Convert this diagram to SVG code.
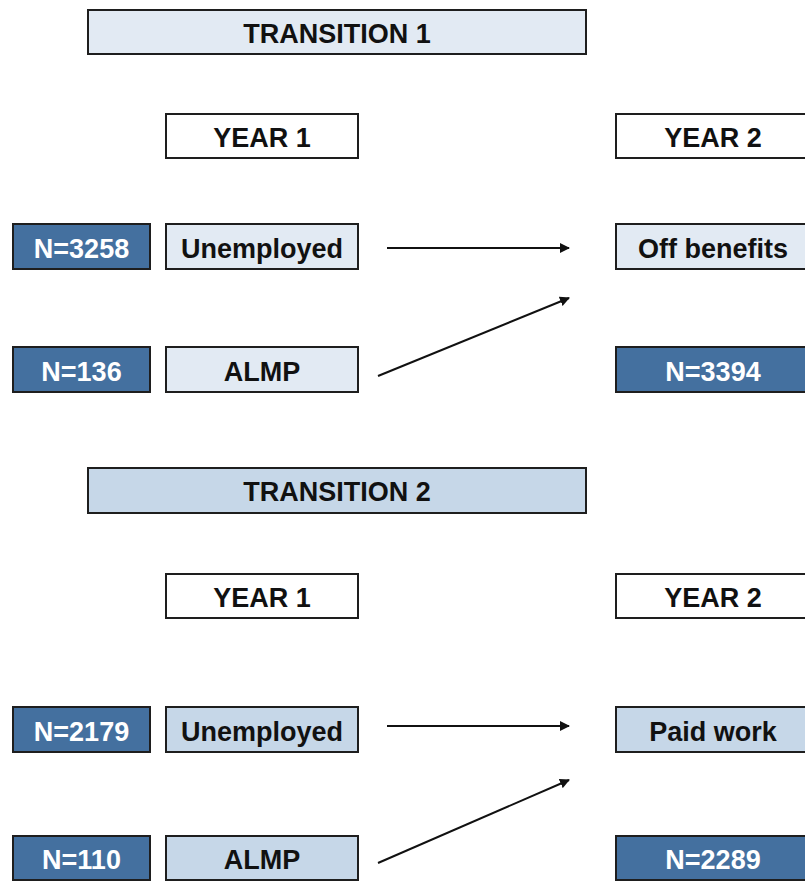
<svg xmlns="http://www.w3.org/2000/svg" width="805" height="882" viewBox="0 0 805 882">
  <defs>
    <style>
      .box { stroke: #1e1e1e; stroke-width: 2; }
      .pale { fill: #e2eaf3; }
      .soft { fill: #c6d7e8; }
      .white { fill: #ffffff; }
      .dark { fill: #44709f; }
      text { font-family: "Liberation Sans", Arial, sans-serif; font-weight: bold; font-size: 27px; text-anchor: middle; }
      .lt { fill: #ffffff; }
      .dt { fill: #111111; }
      .conn line { stroke: #111111; stroke-width: 2; marker-end: url(#arrow); }
    </style>
    <marker id="arrow" viewBox="0 0 10 10" refX="9" refY="5" markerWidth="5" markerHeight="5" orient="auto" markerUnits="strokeWidth">
      <path d="M0,0 L10,5 L0,10 z" fill="#111111"/>
    </marker>
  </defs>

  <rect width="805" height="882" fill="#ffffff"/>

  <!-- Transition 1 -->
  <g id="t1-title"><rect class="box pale" x="88" y="10" width="498" height="44"/><text class="dt" x="337" y="43">TRANSITION 1</text></g>
  <g id="t1-year1"><rect class="box white" x="166" y="114" width="192" height="44"/><text class="dt" x="262" y="147">YEAR 1</text></g>
  <g id="t1-year2"><rect class="box white" x="616" y="114" width="196" height="44"/><text class="dt" x="713" y="147">YEAR 2</text></g>
  <g id="t1-n-unemp"><rect class="box dark" x="13" y="224" width="137" height="45"/><text class="lt" x="81.5" y="258">N=3258</text></g>
  <g id="t1-unemp"><rect class="box pale" x="166" y="224" width="192" height="45"/><text class="dt" x="262" y="258">Unemployed</text></g>
  <g id="t1-off"><rect class="box pale" x="616" y="224" width="196" height="45"/><text class="dt" x="713" y="258">Off benefits</text></g>
  <g id="t1-n-almp"><rect class="box dark" x="13" y="347" width="137" height="45"/><text class="lt" x="81.5" y="381">N=136</text></g>
  <g id="t1-almp"><rect class="box pale" x="166" y="347" width="192" height="45"/><text class="dt" x="262" y="381">ALMP</text></g>
  <g id="t1-n-off"><rect class="box dark" x="616" y="347" width="196" height="45"/><text class="lt" x="713" y="381">N=3394</text></g>

  <!-- Transition 2 -->
  <g id="t2-title"><rect class="box soft" x="88" y="468" width="498" height="45"/><text class="dt" x="337" y="501">TRANSITION 2</text></g>
  <g id="t2-year1"><rect class="box white" x="166" y="574" width="192" height="44"/><text class="dt" x="262" y="607">YEAR 1</text></g>
  <g id="t2-year2"><rect class="box white" x="616" y="574" width="196" height="44"/><text class="dt" x="713" y="607">YEAR 2</text></g>
  <g id="t2-n-unemp"><rect class="box dark" x="13" y="707" width="137" height="45"/><text class="lt" x="81.5" y="741">N=2179</text></g>
  <g id="t2-unemp"><rect class="box soft" x="166" y="707" width="192" height="45"/><text class="dt" x="262" y="741">Unemployed</text></g>
  <g id="t2-paid"><rect class="box soft" x="616" y="707" width="196" height="45"/><text class="dt" x="713" y="741">Paid work</text></g>
  <g id="t2-n-almp"><rect class="box dark" x="13" y="836" width="137" height="44"/><text class="lt" x="81.5" y="869">N=110</text></g>
  <g id="t2-almp"><rect class="box soft" x="166" y="836" width="192" height="44"/><text class="dt" x="262" y="869">ALMP</text></g>
  <g id="t2-n-paid"><rect class="box dark" x="616" y="836" width="196" height="44"/><text class="lt" x="713" y="869">N=2289</text></g>

  <!-- Connectors -->
  <g id="connectors" class="conn">
    <line x1="387" y1="248" x2="569" y2="248"/>
    <line x1="378" y1="376" x2="569" y2="298"/>
    <line x1="387" y1="726" x2="569" y2="726"/>
    <line x1="378" y1="863" x2="569" y2="780"/>
  </g>
</svg>
